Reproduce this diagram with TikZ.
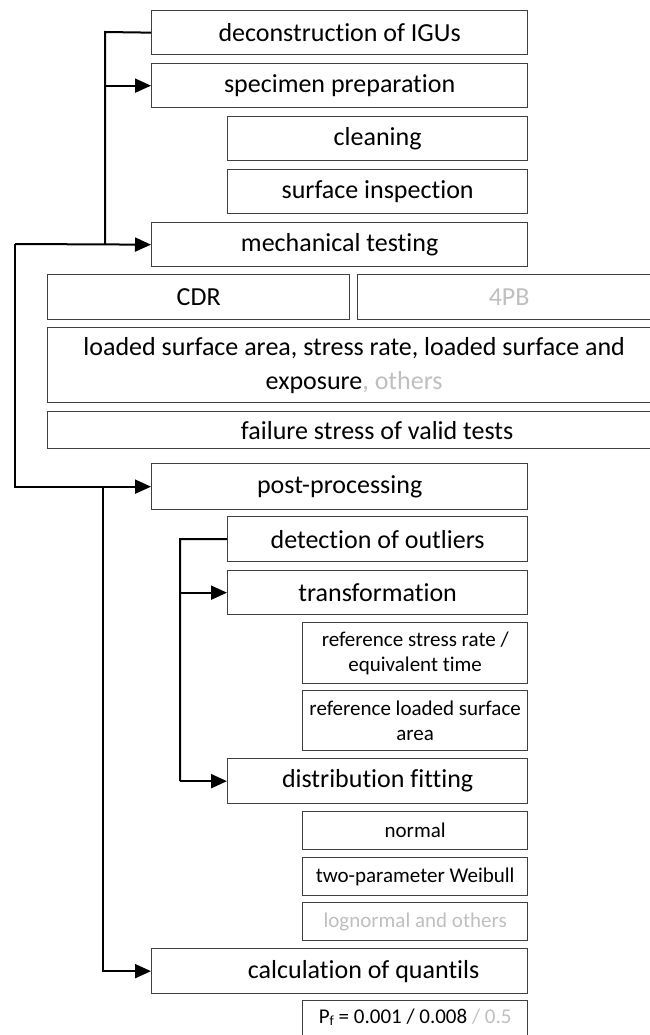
\documentclass[tikz,border=0pt]{standalone}
\usepackage{fontspec}
\setmainfont{Carlito}[Ligatures={NoCommon}]
\usetikzlibrary{arrows.meta}
\definecolor{boxline}{HTML}{404040}
\definecolor{lgray}{HTML}{BFBFBF}
\begin{document}
\begin{tikzpicture}[x=1pt,y=-1pt,
  box/.style={draw=boxline, line width=1.3pt, anchor=north west, inner sep=0pt, align=center},
  big/.style={font=\fontsize{26}{34}\selectfont},
  small/.style={font=\fontsize{21}{25}\selectfont},
  txt/.style={inner sep=0pt, align=center},
  line/.style={draw=black, line width=2pt},
  arr/.style={line, -{Triangle[length=16pt,width=14pt]}}]
\useasboundingbox (0,0) rectangle (649,1035);
% level 1
\node[box,big,minimum width=376pt,minimum height=44pt] (decon) at (151,10) {deconstruction of IGUs};
\node[box,big,minimum width=376pt,minimum height=44pt] (spec) at (151,63) {specimen preparation};
\node[box,big,minimum width=300pt,minimum height=44pt] (clean) at (227,116) {cleaning};
\node[box,big,minimum width=300pt,minimum height=44pt] (surf) at (227,169) {surface inspection};
\node[box,big,minimum width=376pt,minimum height=44pt] (mech) at (151,222) {mechanical testing};
\node[box,big,minimum width=302pt,minimum height=45pt] (cdr) at (47,274) {CDR};
\node[box,big,minimum width=303pt,minimum height=45pt,text=lgray] (fpb) at (357,274) {4PB};
\node[box,big,minimum width=613pt,minimum height=75pt] (load) at (47,327) {loaded surface area, stress rate, loaded surface and\\exposure{\color{lgray}, others}};
\node[box,minimum width=613pt,minimum height=37pt] (fail) at (47,411) {};
\node[txt,big] (failt) at ([xshift=23pt]fail.center) {failure stress of valid tests};
\node[box,big,minimum width=376pt,minimum height=46pt] (post) at (151,463) {post-processing};
\node[box,big,minimum width=300pt,minimum height=45pt] (detect) at (227,516) {detection of outliers};
\node[box,big,minimum width=300pt,minimum height=44pt] (transf) at (227,570) {transformation};
\node[box,small,minimum width=225pt,minimum height=61pt] (rsr) at (302,622) {reference stress rate /\\equivalent time};
\node[box,small,minimum width=225pt,minimum height=60pt] (rls) at (302,690) {reference loaded surface\\area};
\node[box,big,minimum width=300pt,minimum height=45pt] (distr) at (227,758) {distribution fitting};
\node[box,small,minimum width=225pt,minimum height=38pt] (normal) at (302,811) {normal};
\node[box,small,minimum width=225pt,minimum height=38pt] (weib) at (302,857) {two-parameter Weibull};
\node[box,small,minimum width=225pt,minimum height=38pt,text=lgray] (logn) at (302,902) {lognormal and others};
\node[box,minimum width=376pt,minimum height=45pt] (calc) at (151,948) {};
\node[txt,big] (calct) at ([xshift=24pt]calc.center) {calculation of quantils};
\node[box,small,minimum width=225pt,minimum height=45pt] (pf) at (302,1000) {};
\node[txt,small,anchor=north] (pft) at ([yshift=-9pt]pf.north) {P{\fontsize{14}{14}\selectfont\raisebox{-2pt}{f}} = 0.001 / 0.008 {\color{lgray}/ 0.5}};
% connectors
\coordinate (a1) at (105,32);
\coordinate (o1) at (15,244);
\coordinate (b1) at (103,486);
\coordinate (c1) at (180,539);
\draw[line] (decon.west) -- (a1) -- (a1 |- mech.west);
\draw[arr] (a1 |- spec.west) -- (spec.west);
\draw[arr] (o1) -- (mech.west);
\draw[arr] (o1) |- (post.west);
\draw[arr] (b1) |- (calc.west);
\draw[line] (detect.west) -- (c1) -- (c1 |- distr.west);
\draw[arr] (c1 |- transf.west) -- (transf.west);
\draw[arr] (c1 |- distr.west) -- (distr.west);
\end{tikzpicture}
\end{document}
